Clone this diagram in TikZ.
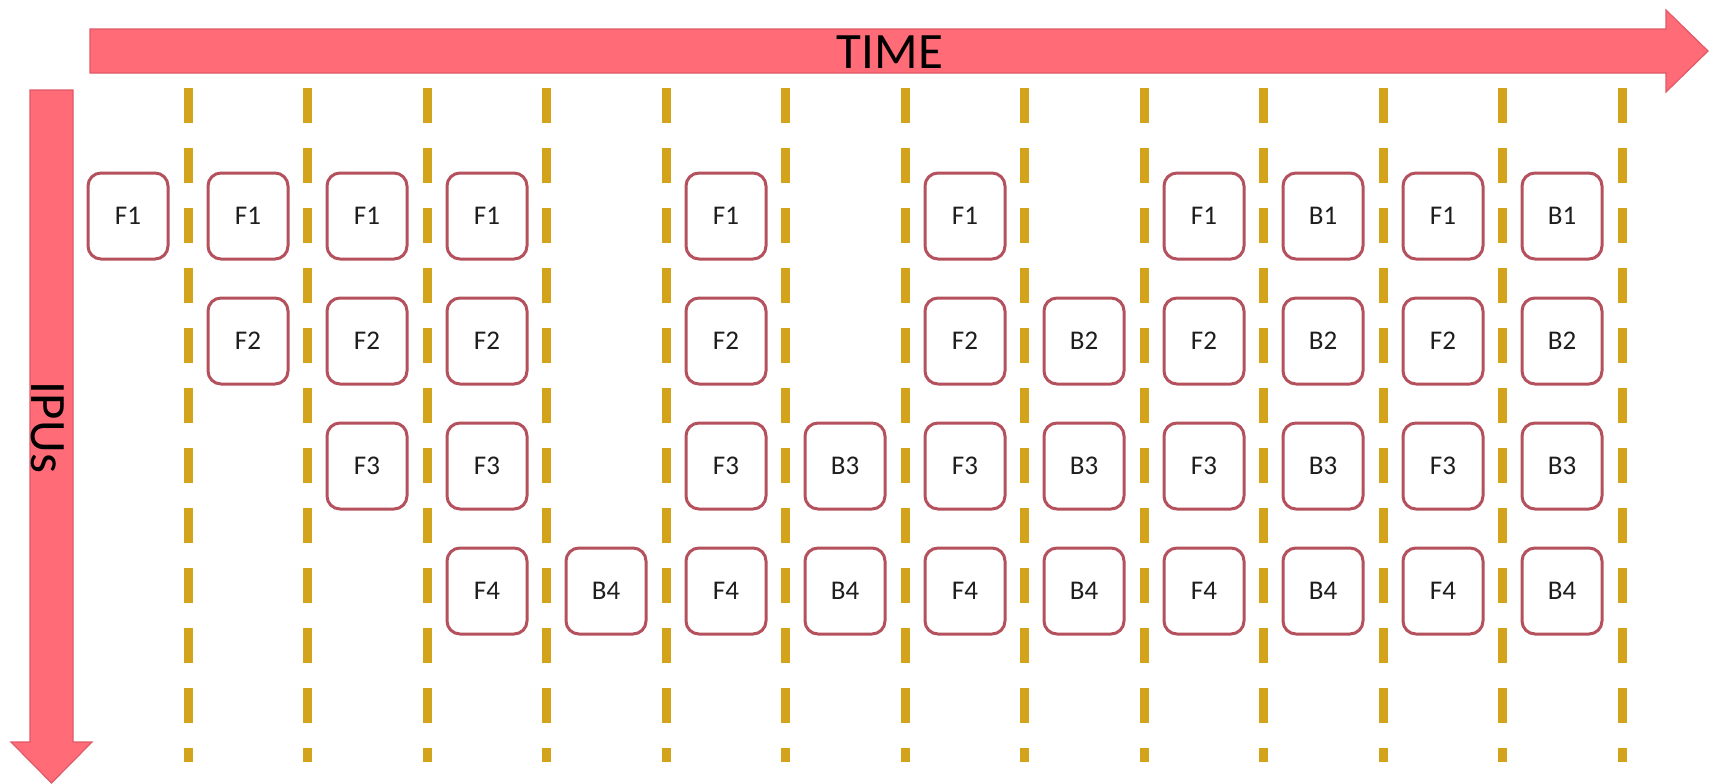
\documentclass[tikz,border=0pt]{standalone}
\usepackage{fontspec}
\setmainfont{Carlito}
\usepackage{xcolor}
\usepackage{tikz}
\usetikzlibrary{shapes,arrows.meta,positioning}
\definecolor{arrowred}{HTML}{FF6B77}
\definecolor{arrowedge}{HTML}{E05A67}
\definecolor{boxedge}{HTML}{B5505D}
\definecolor{slotline}{HTML}{D3A31B}
\definecolor{dark}{HTML}{1E1E1E}

\begin{document}
\begin{tikzpicture}[
    x=0.5pt, y=-0.5pt,
    stage/.style={rectangle, rounded corners=6.5pt, draw=boxedge, line width=1.5pt, fill=white, minimum width=40pt, minimum height=43pt, inner sep=0pt, text=dark, font=\fontsize{13.5}{16}\selectfont},
    bigarrow/.style={fill=arrowred, draw=arrowedge, line width=0.6pt},
    axislabel/.style={inner sep=0pt, text=black, font=\fontsize{25.5}{30}\selectfont},
    slot/.style={draw=slotline, line width=4.5pt, dash pattern=on 17.5pt off 12.5pt}
]
    \useasboundingbox[fill=white] (0,0) rectangle (1714,783);

    % Axes
    \path[bigarrow] (90,29) -- (1666,29) -- (1666,10) -- (1708,51) -- (1666,92) -- (1666,73) -- (90,73) -- cycle;
    \path[bigarrow] (30,90) -- (73,90) -- (73,742) -- (92,742) -- (51.5,783) -- (11,742) -- (30,742) -- cycle;
    \node[axislabel] (time) at (890,52) {TIME};
    \node[axislabel, rotate=-90] (ipus) at (48,427) {IPUs};

    % Time slots
    \draw[slot] (188,88) -- (188,762);
    \draw[slot] (307,88) -- (307,762);
    \draw[slot] (427,88) -- (427,762);
    \draw[slot] (546,88) -- (546,762);
    \draw[slot] (666,88) -- (666,762);
    \draw[slot] (785,88) -- (785,762);
    \draw[slot] (905,88) -- (905,762);
    \draw[slot] (1024,88) -- (1024,762);
    \draw[slot] (1144,88) -- (1144,762);
    \draw[slot] (1263,88) -- (1263,762);
    \draw[slot] (1383,88) -- (1383,762);
    \draw[slot] (1502,88) -- (1502,762);
    \draw[slot] (1622,88) -- (1622,762);

    % Filling the pipeline
    \node[stage] (t0f1) at (128,216) {F1};
    \node[stage] (t1f1) at (248,216) {F1};
    \node[stage] (t1f2) at (248,341) {F2};
    \node[stage] (t2f1) at (367,216) {F1};
    \node[stage] (t2f2) at (367,341) {F2};
    \node[stage] (t2f3) at (367,466) {F3};
    \node[stage] (t3f1) at (487,216) {F1};
    \node[stage] (t3f2) at (487,341) {F2};
    \node[stage] (t3f3) at (487,466) {F3};
    \node[stage] (t3f4) at (487,591) {F4};
    \node[stage] (t4b4) at (606,591) {B4};

    % Ramp up
    \node[stage] (t5f1) at (726,216) {F1};
    \node[stage] (t5f2) at (726,341) {F2};
    \node[stage] (t5f3) at (726,466) {F3};
    \node[stage] (t5f4) at (726,591) {F4};
    \node[stage] (t6b3) at (845,466) {B3};
    \node[stage] (t6b4) at (845,591) {B4};
    \node[stage] (t7f1) at (965,216) {F1};
    \node[stage] (t7f2) at (965,341) {F2};
    \node[stage] (t7f3) at (965,466) {F3};
    \node[stage] (t7f4) at (965,591) {F4};
    \node[stage] (t8b2) at (1084,341) {B2};
    \node[stage] (t8b3) at (1084,466) {B3};
    \node[stage] (t8b4) at (1084,591) {B4};

    % Steady state
    \node[stage] (t9f1) at (1204,216) {F1};
    \node[stage] (t9f2) at (1204,341) {F2};
    \node[stage] (t9f3) at (1204,466) {F3};
    \node[stage] (t9f4) at (1204,591) {F4};
    \node[stage] (t10b1) at (1323,216) {B1};
    \node[stage] (t10b2) at (1323,341) {B2};
    \node[stage] (t10b3) at (1323,466) {B3};
    \node[stage] (t10b4) at (1323,591) {B4};
    \node[stage] (t11f1) at (1443,216) {F1};
    \node[stage] (t11f2) at (1443,341) {F2};
    \node[stage] (t11f3) at (1443,466) {F3};
    \node[stage] (t11f4) at (1443,591) {F4};
    \node[stage] (t12b1) at (1562,216) {B1};
    \node[stage] (t12b2) at (1562,341) {B2};
    \node[stage] (t12b3) at (1562,466) {B3};
    \node[stage] (t12b4) at (1562,591) {B4};
\end{tikzpicture}
\end{document}
